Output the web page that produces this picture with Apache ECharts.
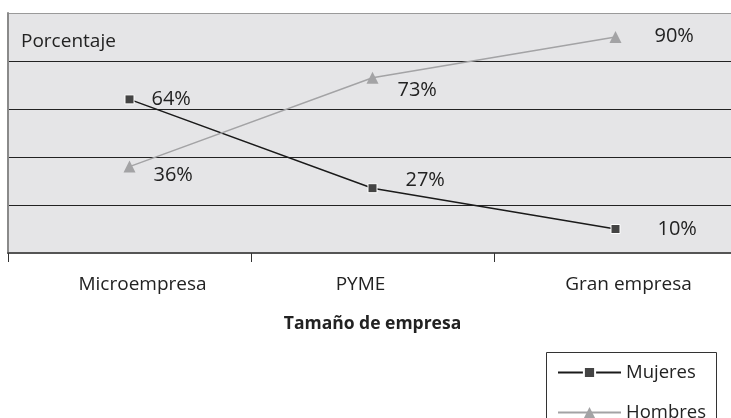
<!DOCTYPE html>
<html><head><meta charset="utf-8">
<script src="https://cdn.jsdelivr.net/npm/echarts@6/dist/echarts.min.js"></script>
<style>html,body{margin:0;padding:0;background:#fff}#c{width:731px;height:418px}</style>
</head><body><div id="c"></div>
<script>
const categories = ['Microempresa', 'PYME', 'Gran empresa'];
const mujeres = [64, 27, 10];
const hombres = [36, 73, 90];
const yTicks = [0, 20, 40, 60, 80, 100];

// label layout (separate from data)
const mujeresLabelOffset = [[17, 0], [28, -8], [37, 0]];
const hombresLabelOffset = [[18, 9], [19, 12], [33, -1]];
const catLabelPad = [[0, 0, 0, 26], [0, 24, 0, 0], [0, 0, 0, 26]];

const FONT = 'Open Sans';
const chart = echarts.init(document.getElementById('c'), null, {renderer: 'canvas'});

function build(vals, offs) {
  return vals.map((v, i) => ({value: v, label: {offset: offs[i]}}));
}
const rich = {};
catLabelPad.forEach((p, i) => { rich['c' + i] = {fontSize: 19, color: '#222', fontFamily: FONT, padding: p}; });

chart.setOption({
  animation: false,
  textStyle: {fontFamily: FONT},
  grid: {left: 8, width: 729, top: 13, bottom: 165, show: true, backgroundColor: '#e5e5e7', borderWidth: 0,
         containLabel: false, outerBoundsMode: 'none'},
  graphic: [
    {type: 'text', left: 21, top: 32, style: {text: 'Porcentaje', font: '19px "' + FONT + '"', fill: '#222'}},
    {type: 'rect', shape: {x: 546.5, y: 352.5, width: 170, height: 80}, style: {fill: 'none', stroke: '#333', lineWidth: 1}}
  ],
  xAxis: {
    type: 'category', data: categories, boundaryGap: true,
    axisLine: {lineStyle: {color: '#555', width: 2}},
    axisTick: {show: true, length: 9, lineStyle: {color: '#333', width: 1}},
    axisLabel: {margin: 22, formatter: (v, i) => '{c' + i + '|' + v + '}', rich: rich},
    name: 'Tamaño de empresa', nameLocation: 'middle', nameGap: 62,
    nameTextStyle: {fontSize: 17.5, fontWeight: 'bold', color: '#222', fontFamily: FONT}
  },
  yAxis: {
    type: 'value', min: yTicks[0], max: yTicks[yTicks.length - 1], interval: 20,
    axisLabel: {show: false}, axisTick: {show: false},
    axisLine: {show: true, lineStyle: {color: '#8a8a8a', width: 2}},
    splitLine: {lineStyle: {color: ['#222', '#222', '#222', '#222', '#222', '#9a9a9a'], width: 1}}
  },
  legend: [
    {left: 557, top: 363, itemWidth: 63, itemHeight: 14, padding: 0,
     textStyle: {fontSize: 18.5, color: '#222', fontFamily: FONT}, data: ['Mujeres']},
    {left: 557, top: 403, itemWidth: 63, itemHeight: 14, padding: 0,
     textStyle: {fontSize: 18.5, color: '#222', fontFamily: FONT}, data: ['Hombres']}
  ],
  series: [
    {
      name: 'Mujeres', type: 'line', data: build(mujeres, mujeresLabelOffset),
      symbol: 'rect', symbolSize: 9,
      itemStyle: {color: '#444', borderColor: '#fff', borderWidth: 1},
      lineStyle: {color: '#1a1a1a', width: 1.5},
      label: {show: true, position: 'right', distance: 0, fontSize: 20, color: '#222', fontFamily: FONT, formatter: p => p.value + '%'}
    },
    {
      name: 'Hombres', type: 'line', data: build(hombres, hombresLabelOffset),
      symbol: 'triangle', symbolSize: 12,
      itemStyle: {color: '#a3a3a5'},
      lineStyle: {color: '#a3a3a5', width: 1.5},
      label: {show: true, position: 'right', distance: 0, fontSize: 20, color: '#222', fontFamily: FONT, formatter: p => p.value + '%'}
    }
  ]
});
</script></body></html>
